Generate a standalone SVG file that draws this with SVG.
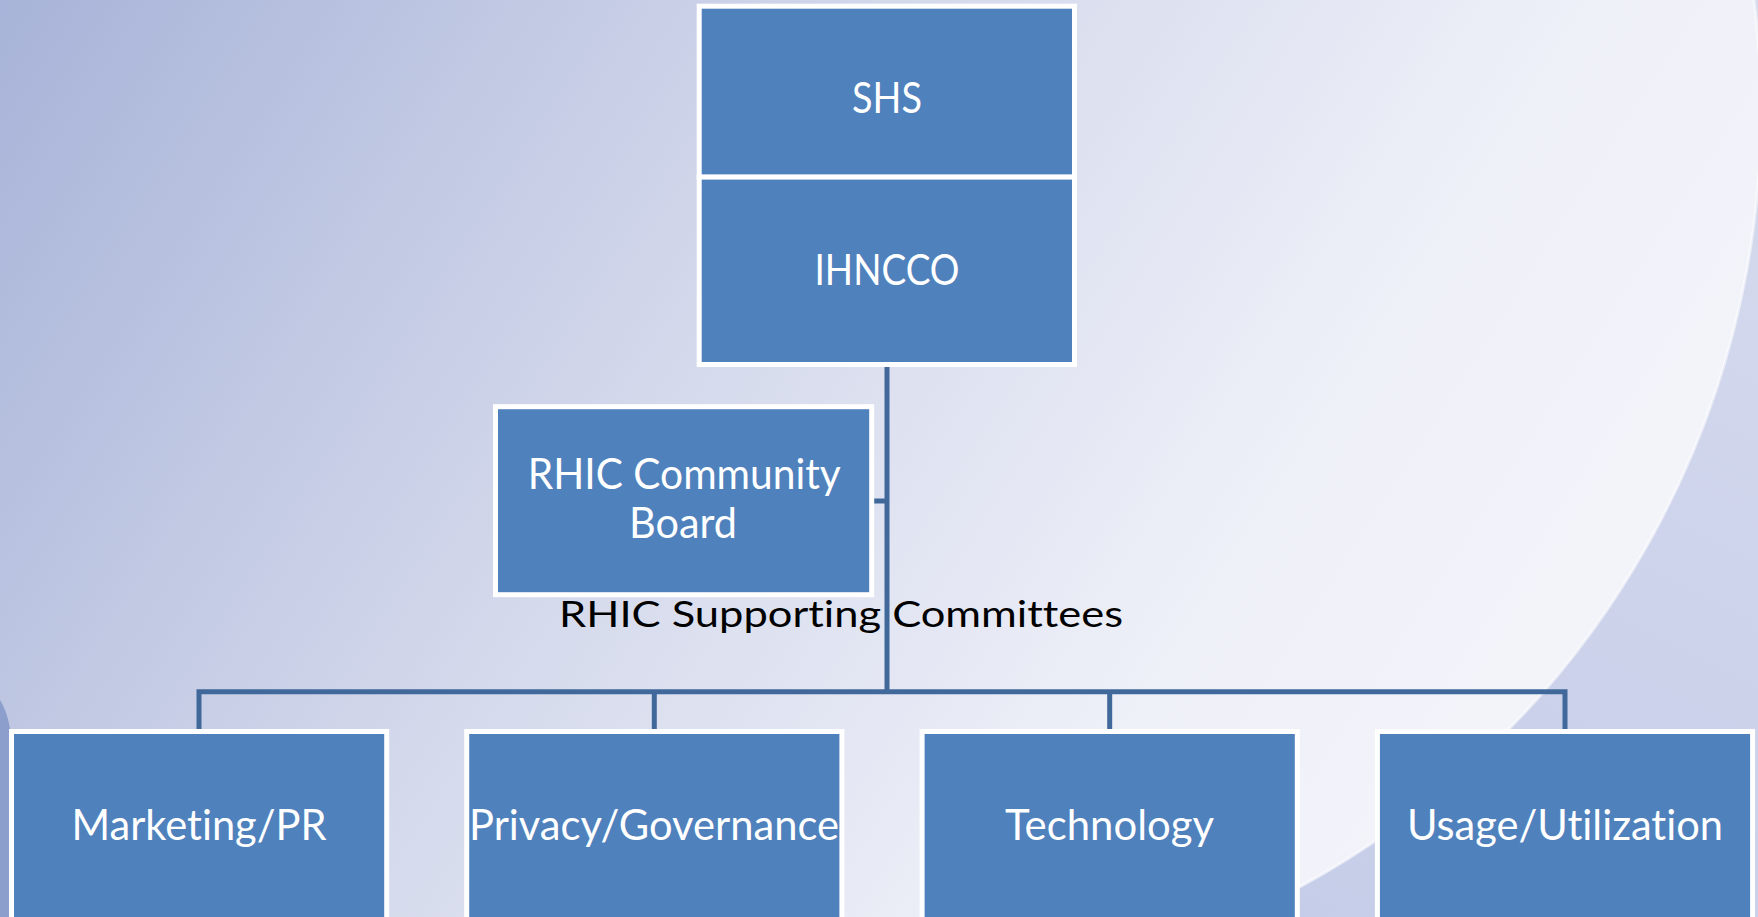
<svg xmlns="http://www.w3.org/2000/svg" width="1758" height="917" viewBox="0 0 1758 917">
  <defs>
    <linearGradient id="bg" gradientUnits="userSpaceOnUse" x1="0" y1="0" x2="1400" y2="900">
      <stop offset="0" stop-color="#A7B3D8"/>
      <stop offset="0.45" stop-color="#D3D8EB"/>
      <stop offset="0.8" stop-color="#EEF0F8"/>
      <stop offset="1" stop-color="#F3F4FA"/>
    </linearGradient>
    <linearGradient id="outer" gradientUnits="userSpaceOnUse" x1="1758" y1="0" x2="1300" y2="917">
      <stop offset="0" stop-color="#D6DBEE"/>
      <stop offset="1" stop-color="#C6CDE8"/>
    </linearGradient>
    <style>
      .box { fill: #4F81BD; stroke: #FFFFFF; stroke-width: 5; }
      .lbl, .cap { font-family: Lato, "Liberation Sans", sans-serif; text-anchor: middle;
                   font-variant-ligatures: none; font-feature-settings: "liga" 0, "clig" 0, "dlig" 0; }
      .lbl { font-size: 42px; fill: #FFFFFF; }
      .cap { font-size: 36px; fill: #000000; }
      .wire { fill: none; stroke: #41689A; stroke-width: 5; stroke-linejoin: miter; }
    </style>
  </defs>

  <!-- backdrop: soft gradient with a large swept arc on the right -->
  <rect x="0" y="0" width="1758" height="917" fill="url(#bg)"/>
  <path d="M1239,917 A882,882 0 0 0 1754,0 L1758,0 L1758,917 Z" fill="url(#outer)"/>
  <path d="M1239,917 A882,882 0 0 0 1754,0" fill="none" stroke="#FFFFFF" stroke-opacity="0.55" stroke-width="3"/>
  <path d="M0,700 Q9,714 12,742 L12,917 L0,917 Z" fill="#8C9ECB"/>

  <!-- connectors -->
  <g id="connectors">
    <path class="wire" d="M887,366 L887,692"/>
    <path class="wire" d="M872,501 L887,501"/>
    <path class="wire" d="M199,731 L199,691.7 L1565,691.7 L1565,731"/>
    <path class="wire" d="M654.3,691.7 L654.3,731"/>
    <path class="wire" d="M1109.7,691.7 L1109.7,731"/>
  </g>

  <!-- nodes -->
  <g id="shs">
    <rect class="box" x="699.2" y="6.2" width="375.3" height="170.9"/>
    <text class="lbl" x="887" y="113" textLength="70" lengthAdjust="spacingAndGlyphs">SHS</text>
  </g>
  <g id="ihncco">
    <rect class="box" x="699.2" y="177.1" width="375.3" height="187.4"/>
    <text class="lbl" x="887" y="285" textLength="145" lengthAdjust="spacingAndGlyphs">IHNCCO</text>
  </g>
  <g id="community-board">
    <rect class="box" x="495.5" y="406.7" width="376.2" height="188"/>
    <text class="lbl" x="684.3" y="489" textLength="313" lengthAdjust="spacingAndGlyphs">RHIC Community</text>
    <text class="lbl" x="683" y="538" textLength="108" lengthAdjust="spacingAndGlyphs">Board</text>
  </g>
  <g id="supporting-label">
    <text class="cap" x="841" y="627" textLength="564" lengthAdjust="spacingAndGlyphs">RHIC Supporting Committees</text>
  </g>
  <g id="marketing">
    <rect class="box" x="11.5" y="731.5" width="375.2" height="200"/>
    <text class="lbl" x="199" y="840" textLength="255" lengthAdjust="spacingAndGlyphs">Marketing/PR</text>
  </g>
  <g id="privacy">
    <rect class="box" x="466.7" y="731.5" width="375.2" height="200"/>
    <text class="lbl" x="654" y="840" textLength="370" lengthAdjust="spacingAndGlyphs">Privacy/Governance</text>
  </g>
  <g id="technology">
    <rect class="box" x="922.1" y="731.5" width="375.2" height="200"/>
    <text class="lbl" x="1109.5" y="840" textLength="209" lengthAdjust="spacingAndGlyphs">Technology</text>
  </g>
  <g id="usage">
    <rect class="box" x="1377.4" y="731.5" width="375.2" height="200"/>
    <text class="lbl" x="1565" y="840" textLength="316" lengthAdjust="spacingAndGlyphs">Usage/Utilization</text>
  </g>
</svg>
